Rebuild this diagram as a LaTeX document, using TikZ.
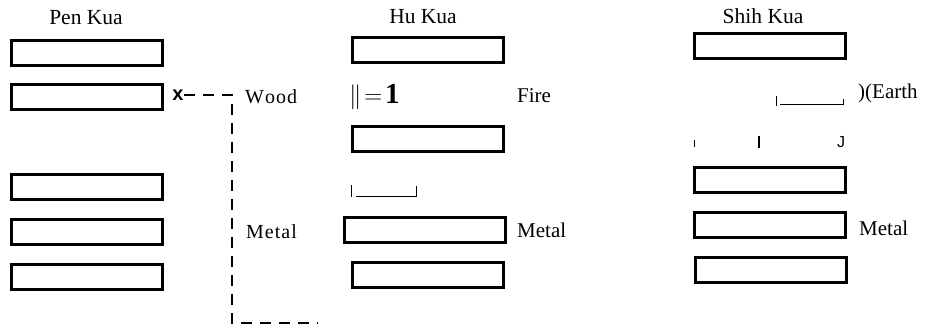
\documentclass[tikz,border=0pt]{standalone}
\usepackage{fontspec}
\setmainfont{Liberation Serif}
\setsansfont{Liberation Sans}
\usetikzlibrary{positioning}

\begin{document}
\begin{tikzpicture}[x=1pt,y=-1pt]
\tikzset{
  yaoline/.style={draw,line width=3pt,minimum width=151pt,minimum height=25pt,inner sep=0pt},
  kualabel/.style={font=\fontsize{21.5}{21.5}\selectfont,inner sep=0pt},
  element/.style={font=\fontsize{21}{21}\selectfont,inner sep=0pt,anchor=west},
  scrap/.style={line width=0.9pt},
  dashline/.style={line width=1.5pt,dash pattern=on 11pt off 8pt}
}
\useasboundingbox (0,0) rectangle (928,328);
% column titles
\node[kualabel] (t_pen) at (86,18) {Pen Kua};
\node[kualabel] (t_hu) at (423,17) {Hu Kua};
\node[kualabel] (t_shih) at (763,16) {Shih Kua};
% Pen Kua
\node[yaoline] (p1) at (87,53) {};
\node[yaoline] (p2) at (87,97) {};
\node[yaoline] (p4) at (87,187) {};
\node[yaoline] (p5) at (87,232.5) {};
\node[yaoline] (p6) at (87,277.5) {};
% Hu Kua
\node[yaoline] (h1) at (428,50) {};
\node[inner sep=0pt,anchor=west,font=\fontsize{29}{29}\selectfont] (h2) at (349,97) {$\|\!=\!\mathbf{1}$};
\node[yaoline] (h3) at (428,139) {};
\draw[scrap] (351,185) -- (351,197);
\draw[scrap] (356,196) -- (416,196) -- (416,186);
\node[yaoline,minimum width=161pt] (h5) at (425,230) {};
\node[yaoline] (h6) at (428,275) {};
% Shih Kua
\node[yaoline] (s1) at (770,46.5) {};
\draw[scrap] (776,96) -- (776,106);
\draw[scrap] (780,104) -- (843,104) -- (843,99);
\draw[scrap] (694,140) -- (694,147);
\draw[line width=1.6pt] (759,136) -- (759,148);
\node[inner sep=0pt,font=\sffamily\fontsize{16}{16}\selectfont] (s3j) at (841,142) {J};
\node[yaoline] (s4) at (770,180) {};
\node[yaoline] (s5) at (770,225) {};
\node[yaoline] (s6) at (771,270) {};
% elements
\node[element,font=\fontsize{20}{20}\selectfont] (e_wood) at (245,97) {W\kern1pt o\kern1pt o\kern1pt d};
\node[element,font=\fontsize{20}{20}\selectfont] (e_metal) at (246,232) {M\kern1pt e\kern1pt t\kern1pt a\kern1pt l};
\node[element] (e_fire) at (517,96) {Fire};
\node[element] (e_humetal) at (517,230) {Metal};
\node[element] (e_earth) at (858,93) {)(Earth};
\node[element] (e_shmetal) at (859,228) {Metal};
% changing line
\node[inner sep=0pt,font=\sffamily\bfseries\fontsize{20}{20}\selectfont] (cross) at (178,95) {x};
\coordinate (dashfoot) at (232,323);
\coordinate (dashend) at (318,323);
\draw[dashline] (cross.east) -| (dashfoot) -- (dashend);
\end{tikzpicture}
\end{document}
